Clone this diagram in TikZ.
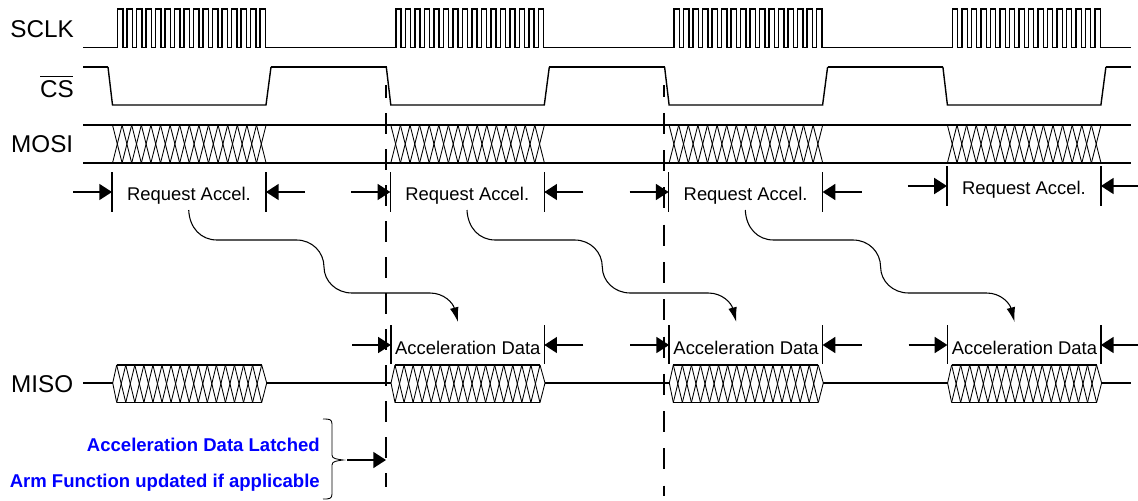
\documentclass[tikz,border=0pt]{standalone}
\usepackage{fontspec}
\setmainfont{Liberation Sans}
\usetikzlibrary{arrows.meta}

\tikzset{
    trace/.style={line width=1.05pt},
    thin trace/.style={line width=0.65pt},
    tick line/.style={line width=1.05pt},
    dim arrow/.style={line width=1.05pt,-{Triangle[length=9.5pt,width=12pt]}},
    flow arrow/.style={line width=0.8pt,-{Latex[length=11pt,width=6.5pt]}},
    latch line/.style={line width=1.1pt,dash pattern=on 15.75pt off 11.25pt,dash phase=6pt},
    latch line long/.style={line width=1.1pt,dash pattern=on 15.75pt off 12.2pt,dash phase=7pt},
    signal label/.style={font=\fontsize{18.2pt}{20pt}\selectfont,anchor=east,inner sep=0pt},
    dim label/.style={font=\fontsize{13.8pt}{16pt}\selectfont,inner sep=0pt},
    latch label/.style={font=\fontsize{13.9pt}{16pt}\selectfont\bfseries,text=blue,anchor=east,inner sep=0pt}
}

\begin{document}
\begin{tikzpicture}[x=0.75pt,y=-0.75pt]
    \useasboundingbox (0,0) rectangle (1138,500);

    % Signal names
    \node[signal label] (sclk) at (74,29) {SCLK};
    \node[signal label] (cs) at (74,87) {\rlap{\rule[15pt]{24.5pt}{0.8pt}}CS};
    \node[signal label] (mosi) at (73.5,144) {MOSI};
    \node[signal label] (miso) at (73.5,384) {MISO};

    % Idle lines
    \draw[trace] (83,125) -- (1131,125);
    \draw[trace] (83,163) -- (1131,163);
    \draw[trace] (83,47.5) -- (117,47.5);
    \draw[trace] (83,67) -- (108,67);
    \draw[trace] (83,383) -- (113,383);

    % The four repeated transfers
    \foreach \n/\x in {1/0,2/278.3,3/556.6,4/834.9} {
        \begin{scope}[xshift=0.75*\x]
            % SCLK burst
            \foreach \i in {0,...,15} {
                \draw[trace,line join=miter] (117.5+9.5*\i,47.5) -- (117.5+9.5*\i,9) -- (122.8+9.5*\i,9)
                    -- (122.8+9.5*\i,47.5) -- (127+9.5*\i,47.5);
            }
            % CS low
            \draw[trace] (108,67) -- (112.5,105) -- (266,105) -- (271,67);
            % MOSI data
            \foreach \i in {0,...,15} {
                \draw[thin trace] (112.5+9.6*\i,125) -- (122.1+9.6*\i,163);
                \draw[thin trace] (122.1+9.6*\i,125) -- (112.5+9.6*\i,163);
            }
            % MISO data
            \foreach \i in {0,...,15} {
                \draw[thin trace] (116.7+9.06*\i,365) -- (125.76+9.06*\i,402.5);
                \draw[thin trace] (125.76+9.06*\i,365) -- (116.7+9.06*\i,402.5);
            }
        \end{scope}
    }

    \foreach \n/\x in {1/0,2/278.3,3/556.6} {
        \begin{scope}[xshift=0.75*\x]
            \draw[trace] (271,67) -- (386.5,67);
            \draw[trace] (266,47.5) -- (396,47.5);
            \draw[trace] (266.7,383) -- (391,383);
        \end{scope}
    }
    \draw[trace] (1101.6,47.5) -- (1131,47.5);
    \draw[trace] (1105.9,67) -- (1131,67);
    \draw[trace] (1101.6,383) -- (1131,383);

    \foreach \n/\x in {1/0,2/278.3,3/556.6,4/834.9} {
        \begin{scope}[xshift=0.75*\x]
            \draw[thin trace] (116.7,365) -- (112.7,383) -- (116.7,402.5);
            \draw[thin trace] (261.7,365) -- (266.7,383) -- (261.7,402.5);
            \draw[trace] (116.7,365) -- (261.7,365);
            \draw[trace] (116.7,402.5) -- (261.7,402.5);
        \end{scope}
    }

    % Latch markers
    \draw[latch line] (386,85) -- (386,487);
    \draw[latch line long] (664.2,85) -- (664.2,496);

    % Request labels with dimension arrows
    \foreach \n/\x/\y in {a/0/0,b/278.3/0,c/556.6/0,d/834.9/-6} {
        \begin{scope}[xshift=0.75*\x,yshift=-0.75*\y]
            \coordinate (req\n l) at (112,192);
            \coordinate (req\n r) at (266,192);
            \draw[tick line] (112,172) -- (112,212);
            \draw[tick line] (266,172) -- (266,212);
            \node[dim label] (req\n) at (189,195.5) {Request Accel.};
            \coordinate (req\n in) at (73,192);
            \coordinate (req\n out) at (305,192);
            \draw[dim arrow] (req\n in) -- (req\n l);
            \draw[dim arrow] (req\n out) -- (req\n r);
        \end{scope}
    }

    % Paths from request to data
    \foreach \n/\x in {a/0,b/278.3,c/556.6} {
        \begin{scope}[xshift=0.75*\x]
            \coordinate (path\n s) at (188.7,210);
            \coordinate (path\n e) at (458,322);
            \draw[flow arrow] (path\n s) .. controls (189.5,228) and (201,240) .. (217,240) -- (296.5,240)
                .. controls (312,240) and (324,252) .. (324,267)
                .. controls (324,281) and (336,293) .. (352,293) -- (430,293)
                .. controls (444,293) and (453,303) .. (path\n e);
        \end{scope}
    }

    % Data labels with dimension arrows
    \foreach \n/\x in {a/278.3,b/556.6,c/834.9} {
        \begin{scope}[xshift=0.75*\x]
            \coordinate (dat\n l) at (112.5,345);
            \coordinate (dat\n r) at (266,345);
            \draw[tick line] (112.5,325) -- (112.5,364);
            \draw[tick line] (266,325) -- (266,364);
            \node[dim label] (dat\n) at (189.5,348) {Acceleration Data};
            \coordinate (dat\n in) at (73.7,345);
            \coordinate (dat\n out) at (305,345);
            \draw[dim arrow] (dat\n in) -- (dat\n l);
            \draw[dim arrow] (dat\n out) -- (dat\n r);
        \end{scope}
    }

    % Latch notes
    \node[latch label] (latched) at (320,445) {Acceleration Data Latched};
    \node[latch label] (updated) at (320,482.5) {Arm Function updated if applicable};
    \draw[thin trace] (323,419) .. controls (329,419) and (332,419) .. (332,424) -- (332,455)
        .. controls (332,459) and (337,459) .. (343,460)
        .. controls (337,461) and (332,461) .. (332,465) -- (332,494)
        .. controls (332,499) and (329,499) .. (323,499);
    \coordinate (notetail) at (347,460);
    \coordinate (notetip) at (386,460);
    \draw[dim arrow] (notetail) -- (notetip);

\end{tikzpicture}
\end{document}
